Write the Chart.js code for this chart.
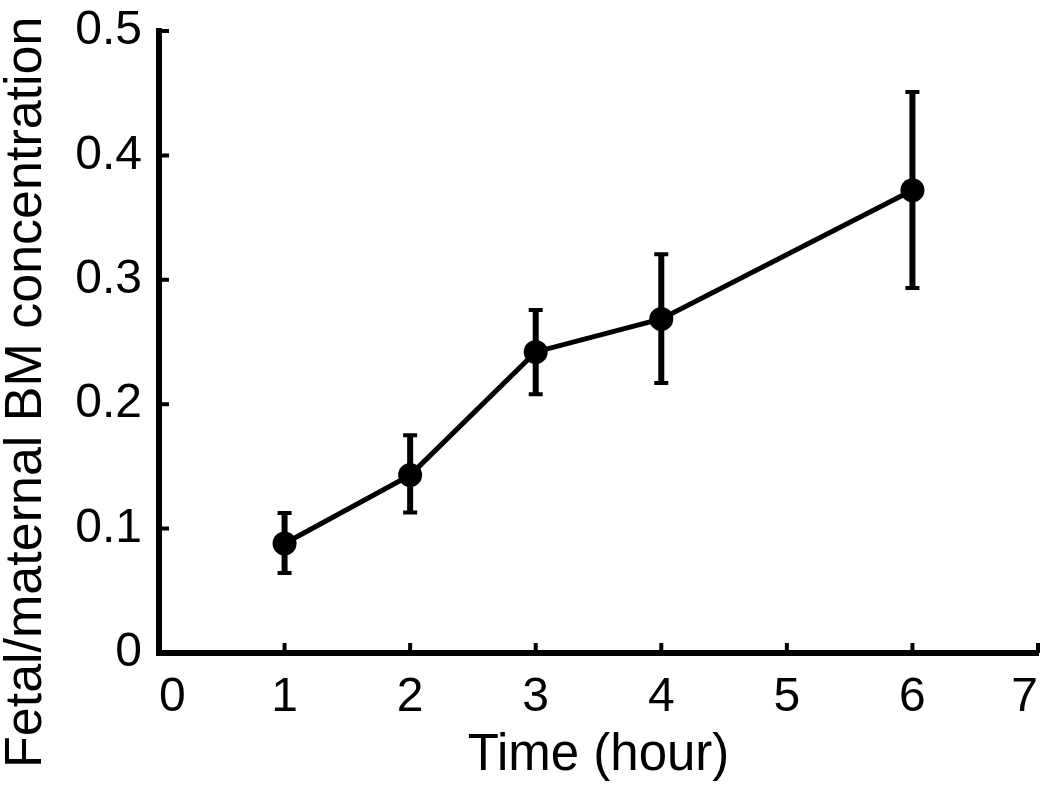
<!DOCTYPE html>
<html>
<head>
<meta charset="utf-8">
<script src="https://cdn.jsdelivr.net/npm/chart.js@4/dist/chart.umd.min.js"></script>
<style>
  html, body { margin: 0; padding: 0; background: #fff; }
  #wrap { width: 1050px; height: 789px; }
</style>
</head>
<body>
<div id="wrap"><canvas id="c" width="1050" height="789"></canvas></div>
<script>
// ---- data ----
const hours = [1, 2, 3, 4, 6];
const ratio = [0.088, 0.143, 0.242, 0.2685, 0.372];
const errHigh = [0.1125, 0.175, 0.2757, 0.3205, 0.451];
const errLow = [0.0643, 0.113, 0.208, 0.217, 0.2935];
const xTicks = [0, 1, 2, 3, 4, 5, 6, 7];
const yTicks = [0, 0.1, 0.2, 0.3, 0.4, 0.5];
const xTitle = 'Time (hour)';
const yTitle = 'Fetal/maternal BM concentration';

const FONT = '"Liberation Sans", Arial, Helvetica, sans-serif';

const errorBars = {
  id: 'errorBars',
  afterDatasetsDraw(chart) {
    const ctx = chart.ctx, xs = chart.scales.x, ys = chart.scales.y;
    ctx.save();
    ctx.strokeStyle = '#000';
    hours.forEach((h, i) => {
      const x = xs.getPixelForValue(h);
      const yt = ys.getPixelForValue(errHigh[i]);
      const yb = ys.getPixelForValue(errLow[i]);
      ctx.lineWidth = 6;
      ctx.beginPath(); ctx.moveTo(x, yt); ctx.lineTo(x, yb); ctx.stroke();
      ctx.lineWidth = 4;
      ctx.beginPath();
      ctx.moveTo(x - 7, yt); ctx.lineTo(x + 7, yt);
      ctx.moveTo(x - 7, yb); ctx.lineTo(x + 7, yb);
      ctx.stroke();
    });
    ctx.restore();
  }
};

const innerTicks = {
  id: 'innerTicks',
  afterDraw(chart) {
    const ctx = chart.ctx, xs = chart.scales.x, ys = chart.scales.y;
    const a = chart.chartArea;
    ctx.save();
    ctx.strokeStyle = '#000';
    ctx.lineWidth = 4;
    ctx.beginPath();
    xTicks.forEach(v => {
      const x = xs.getPixelForValue(v);
      ctx.moveTo(x, a.bottom); ctx.lineTo(x, a.bottom - 10);
    });
    yTicks.forEach(v => {
      const y = ys.getPixelForValue(v);
      ctx.moveTo(a.left, y); ctx.lineTo(a.left + 10, y);
    });
    ctx.stroke();
    // rotated y-axis title
    ctx.fillStyle = '#000';
    ctx.font = '52px ' + FONT;
    ctx.translate(41, 768);
    ctx.rotate(-Math.PI / 2);
    ctx.textAlign = 'left';
    ctx.textBaseline = 'alphabetic';
    ctx.fillText(yTitle, 0, 0);
    ctx.restore();
  }
};

new Chart(document.getElementById('c'), {
  type: 'line',
  data: {
    datasets: [{
      data: hours.map((h, i) => ({ x: h, y: ratio[i] })),
      borderColor: '#000',
      backgroundColor: '#000',
      borderWidth: 5,
      pointRadius: 12,
      pointBackgroundColor: '#000',
      pointBorderColor: '#000',
      pointBorderWidth: 0,
      tension: 0,
      fill: false
    }]
  },
  options: {
    responsive: false,
    animation: false,
    devicePixelRatio: 1,
    layout: { padding: { top: 31, right: 5, left: 0, bottom: 0 } },
    plugins: { legend: { display: false }, tooltip: { enabled: false } },
    scales: {
      x: {
        type: 'linear',
        min: 0, max: 7,
        afterBuildTicks(scale) { scale.ticks = xTicks.map(v => ({ value: v })); },
        afterFit(scale) { scale.height = 136; scale.paddingLeft = 0; scale.paddingRight = 0; },
        grid: { display: true, drawOnChartArea: false, drawTicks: false },
        border: { display: true, color: '#000', width: 6 },
        ticks: {
          color: '#000', padding: 16, align: 'inner', maxRotation: 0,
          font: { family: FONT, size: 48 },
          callback: v => String(v)
        },
        title: {
          display: true, text: xTitle, color: '#000',
          font: { family: FONT, size: 51 },
          padding: { top: 0, bottom: 2 }
        }
      },
      y: {
        type: 'linear',
        min: 0, max: 0.5,
        afterBuildTicks(scale) { scale.ticks = yTicks.map(v => ({ value: v })); },
        afterFit(scale) { scale.width = 159; scale.paddingTop = 0; scale.paddingBottom = 0; },
        grid: { display: true, drawOnChartArea: false, drawTicks: false },
        border: { display: true, color: '#000', width: 6 },
        ticks: {
          color: '#000', padding: 17,
          font: { family: FONT, size: 48 },
          callback: v => (v === 0 ? '0' : Number(v).toFixed(1))
        }
      }
    }
  },
  plugins: [errorBars, innerTicks]
});
</script>
</body>
</html>
